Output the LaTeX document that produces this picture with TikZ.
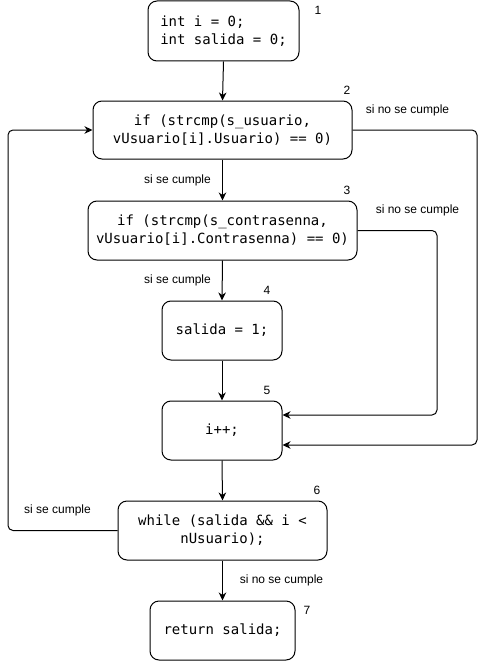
\documentclass[tikz,border=0pt]{standalone}
\usepackage{fontspec}
\setmainfont{Liberation Sans}
\setmonofont{DejaVu Sans Mono}
\usetikzlibrary{arrows.meta}
\begin{document}
\begin{tikzpicture}[x=1pt,y=-1pt,
  box/.style={draw, line width=1pt, rounded corners=9pt, inner sep=0pt,
    font=\fontsize{14}{18}\selectfont\ttfamily, align=center},
  arr/.style={draw, line width=1pt, -{Stealth[length=8pt,width=7.5pt,inset=2.5pt]}},
  lbl/.style={font=\fontsize{12}{14}\selectfont, inner sep=0pt},
  num/.style={font=\fontsize{12}{14}\selectfont, inner sep=0pt}]
\useasboundingbox (0,0) rectangle (486,661);
\node[box, minimum width=151pt, minimum height=60pt, align=left] (b1) at (223.5,31) {int i = 0;\\int salida = 0;};
\node[box, minimum width=259pt, minimum height=58pt] (b2) at (222.5,130) {if (strcmp(s\_usuario,\\vUsuario[i].Usuario) == 0)};
\node[box, minimum width=269pt, minimum height=59pt] (b3) at (222.5,230.5) {if (strcmp(s\_contrasenna,\\vUsuario[i].Contrasenna) == 0)};
\node[box, minimum width=120pt, minimum height=59pt] (b4) at (222,330.5) {salida = 1;};
\node[box, minimum width=120pt, minimum height=59pt] (b5) at (222,430.5) {i++;};
\node[box, minimum width=209pt, minimum height=59pt] (b6) at (222.5,530.5) {while (salida \&\& i <\\nUsuario);};
\node[box, minimum width=145pt, minimum height=59pt] (b7) at (222.5,630.5) {return salida;};

\node[num] (n1) at (318,10) {1};
\node[num] (n2) at (347,90) {2};
\node[num] (n3) at (347,190) {3};
\node[num] (n4) at (267,290) {4};
\node[num] (n5) at (267,390) {5};
\node[num] (n6) at (317,490) {6};
\node[num] (n7) at (307,610) {7};

\draw[arr] (b1.south) -- (b2.north);
\draw[arr] (b2.south) -- (b3.north);
\draw[arr] (b3.south) -- (b4.north);
\draw[arr] (b4.south) -- (b5.north);
\draw[arr] (b5.south) -- (b6.north);
\draw[arr] (b6.south) -- (b7.north);

\coordinate (c2) at (477,445);
\coordinate (c3) at (437,415);
\coordinate (c6) at (8,130);
\draw[arr, rounded corners=5pt] (b2.east) -| (c2) -- (c2 -| b5.east);
\draw[arr, rounded corners=5pt] (b3.east) -| (c3) -- (c3 -| b5.east);
\draw[arr, rounded corners=5pt] (b6.west) -| (c6) -- (b2.west);

\node[lbl] (l1) at (177.5,180) {si se cumple};
\node[lbl] (l2) at (177.5,280) {si se cumple};
\node[lbl] (l3) at (57.5,510) {si se cumple};
\node[lbl] (l4) at (407.5,110) {si no se cumple};
\node[lbl] (l5) at (417.5,210) {si no se cumple};
\node[lbl] (l6) at (281.5,580) {si no se cumple};
\end{tikzpicture}
\end{document}
